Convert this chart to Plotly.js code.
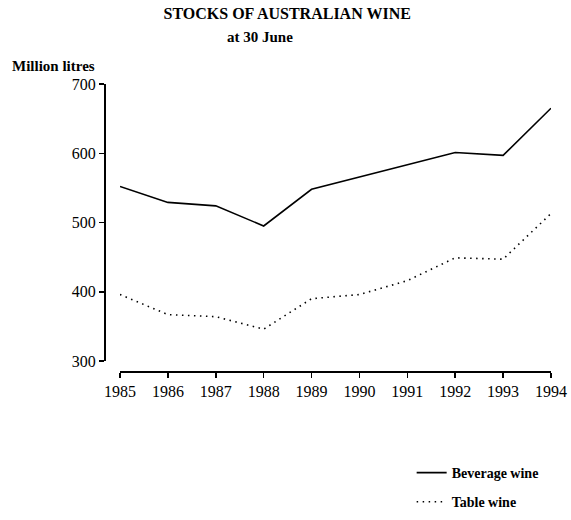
<!DOCTYPE html>
<html><head><meta charset="utf-8">
<script src="https://cdn.plot.ly/plotly-3.0.1.min.js"></script>
<style>body{margin:0;background:#fff}#c{width:571px;height:520px}</style>
</head><body><div id="c"></div>
<script>
var years = [1985,1986,1987,1988,1989,1990,1991,1992,1993,1994];
var beverageWine = [552,529,524,495,548,566,583,601,597,665];
var tableWine = [396,367,364,346,390,396,416,449,447,513];
var yTicks = [300,400,500,600,700];

var serif = "Liberation Serif, Times New Roman, serif";
var traces = [
  {x: years, y: beverageWine, name: "<b>Beverage wine</b>", mode: "lines", legendgroup: "a",
   line: {color: "#000", width: 1.6}},
  {x: years, y: tableWine, name: "<b>Table wine</b>", mode: "lines", legendgroup: "b",
   line: {color: "#000", width: 1.6, dash: "1.5px,4.5px"}}
];
var ph = 520-84-149;
var layout = {
  width: 571, height: 520,
  margin: {l: 104, r: 20, t: 84, b: 149, autoexpand: false},
  paper_bgcolor: "#fff", plot_bgcolor: "#fff",
  font: {family: serif, color: "#000", size: 16},
  title: {text: "<b>STOCKS OF AUSTRALIAN WINE</b>", x: 0.503, xanchor: "center", y: 0.975, yanchor: "middle",
          font: {family: serif, size: 16, color: "#000"}},
  xaxis: {domain: [16/447, 1], range: [1985, 1994], anchor: "free", position: 0,
          tickvals: years, ticktext: years.map(String),
          showline: true, linecolor: "#000", linewidth: 1.5,
          ticks: "outside", ticklen: 5, tickwidth: 1.5, tickcolor: "#000",
          showgrid: false, zeroline: false, automargin: false,
          tickfont: {family: serif, size: 16}},
  yaxis: {domain: [10/287, 1], range: [300, 700], anchor: "free", position: 0,
          tickvals: yTicks,
          showline: true, linecolor: "#000", linewidth: 1.5,
          ticks: "outside", ticklen: 5, tickwidth: 1.5, tickcolor: "#000",
          showgrid: false, zeroline: false, automargin: false,
          tickfont: {family: serif, size: 16}},
  showlegend: true,
  legend: {x: 393/571, xanchor: "left", y: (371-457)/ph, yanchor: "top",
           traceorder: "grouped", tracegroupgap: 8,
           font: {family: serif, size: 14, color: "#000"}, bgcolor: "rgba(0,0,0,0)"},
  annotations: [
    {text: "<b>at 30 June</b>", xref: "paper", yref: "paper", x: (260-104)/447, y: (371-37)/ph,
     yanchor: "middle", xanchor: "center", showarrow: false, font: {family: serif, size: 15}},
    {text: "<b>Million litres</b>", xref: "paper", yref: "paper", x: (10-104)/447, xanchor: "left",
     y: (371-66)/ph, yanchor: "middle", showarrow: false, font: {family: serif, size: 15}}
  ]
};
Plotly.newPlot("c", traces, layout, {displayModeBar: false, staticPlot: true});
</script></body></html>
